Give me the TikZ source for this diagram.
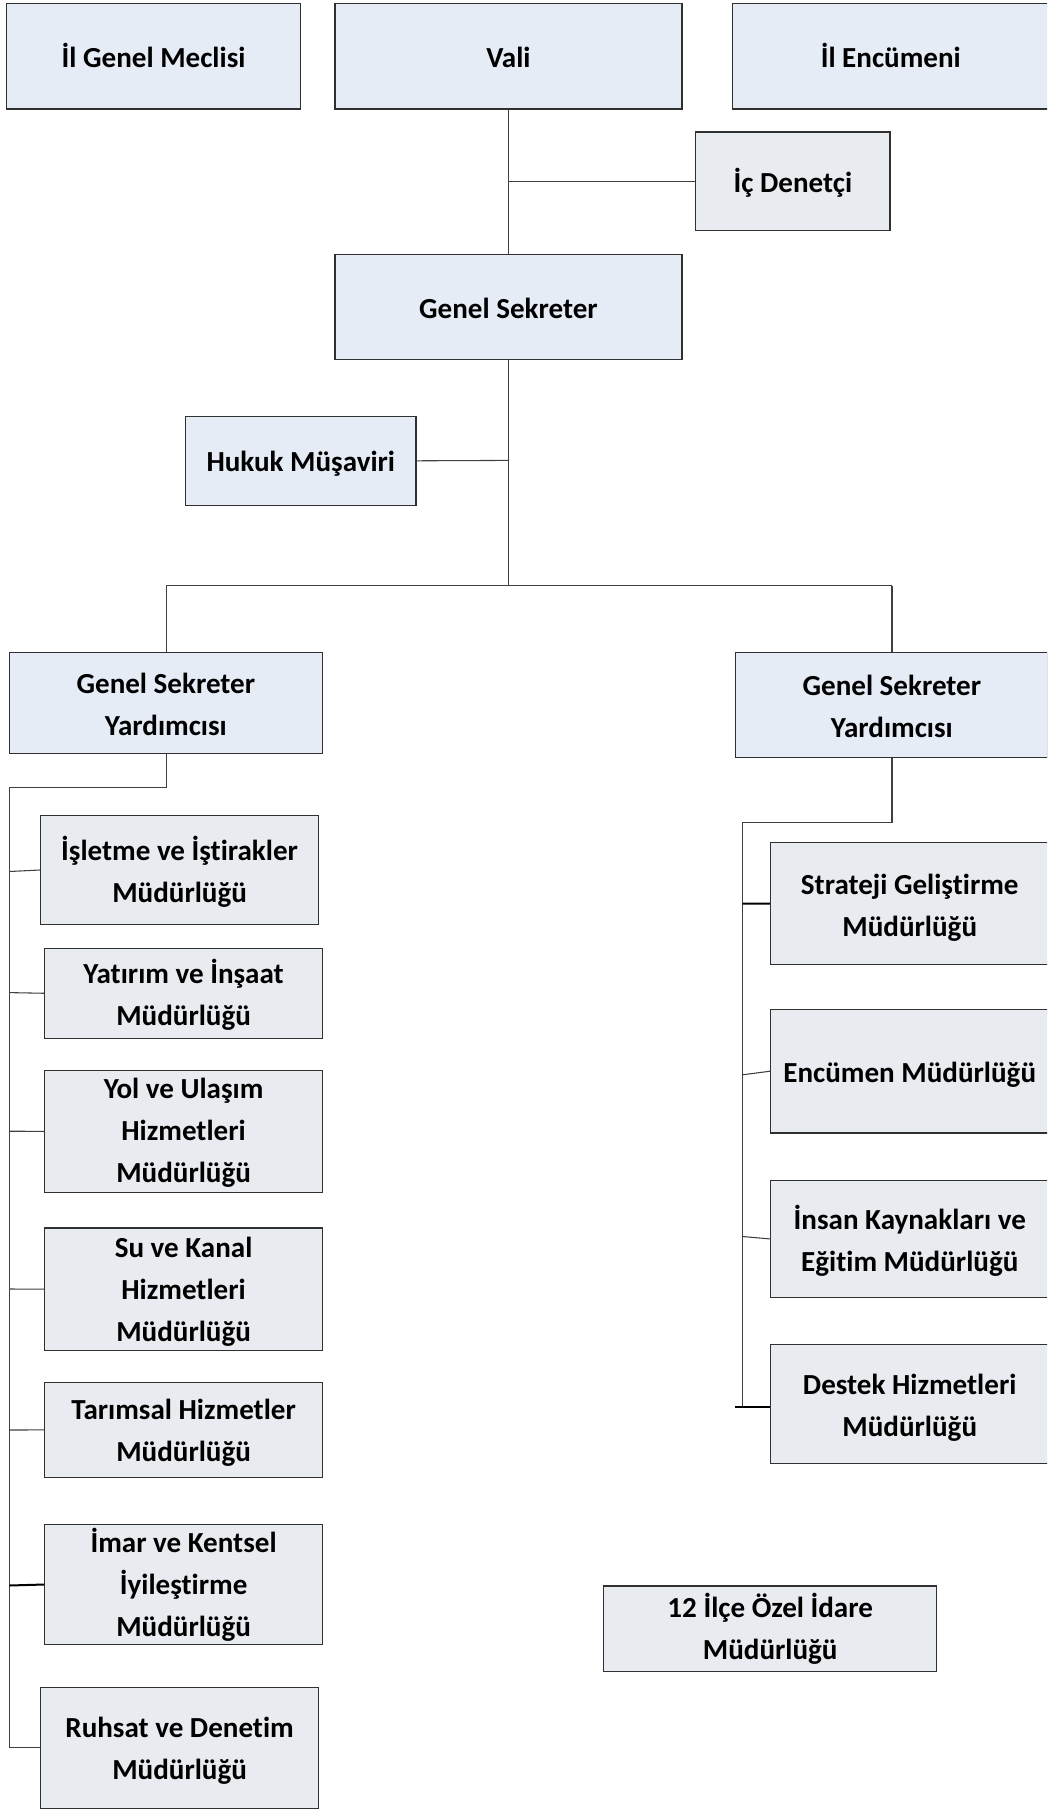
\documentclass[tikz,border=0pt]{standalone}
\usepackage{fontspec}
\setmainfont{Carlito}[Ligatures=NoCommon]
\definecolor{fillA}{HTML}{E6ECF6}
\definecolor{fillB}{HTML}{E8ECF1}
\definecolor{edge}{HTML}{303030}
\definecolor{conn}{HTML}{404040}
\tikzset{
  boxA/.style={draw=edge, line width=1pt, fill=fillA, inner sep=0pt},
  boxB/.style={boxA, fill=fillB},
  txt/.style={inner sep=0pt, align=center,
    font=\fontsize{21.8}{31.5}\selectfont\bfseries,
    execute at begin node={\rule{0pt}{21.5pt}},
    execute at end node={\rule[-5pt]{0pt}{5pt}}},
  link/.style={draw=conn, line width=0.8pt},
  linkT/.style={draw=black, line width=1.5pt},
}
% [#1 text offset down, px] #2 style, #3 name, #4 x1, #5 y1, #6 x2, #7 y2, #8 text
\newcommand\orgbox[8][0]{%
  \node[#2, minimum width={(#6-#4)*0.75pt}, minimum height={(#7-#5)*0.75pt}]
    (#3) at ({(#4+#6)/2},{(#5+#7)/2}) {};
  \node[txt] (#3-t) at ([yshift={-(#1)*0.75pt}]#3.center) {#8};}
\begin{document}
\begin{tikzpicture}[x=0.75pt,y=-0.75pt]
\clip (0,0) rectangle (1047,1810);
\fill[white] (0,0) rectangle (1047,1810);
% top row
\orgbox{boxA}{ilgm}{6.7}{3.8}{300.5}{109}{İl Genel Meclisi}
\orgbox{boxA}{vali}{335}{3.8}{682}{109}{Vali}
\orgbox{boxA}{ilenc}{732.5}{3.8}{1049}{109}{İl Encümeni}
\orgbox{boxB}{icd}{695.8}{132}{890}{230.8}{İç Denetçi}
\orgbox{boxA}{gs}{335}{254.5}{682}{359.7}{Genel Sekreter}
\orgbox{boxA}{hukuk}{185.6}{416.4}{416}{505.2}{Hukuk Müşaviri}
\orgbox[4.5]{boxA}{gsyL}{9.3}{652.4}{322.5}{753.8}{Genel Sekreter\\Yardımcısı}
\orgbox[4.5]{boxA}{gsyR}{735.8}{652.4}{1048}{757.7}{Genel Sekreter\\Yardımcısı}
% left departments
\orgbox[2.3]{boxB}{isl}{40.7}{815.5}{318.5}{924.5}{İşletme ve İştirakler\\Müdürlüğü}
\orgbox[2]{boxB}{yat}{44.7}{948.3}{322.5}{1038.2}{Yatırım ve İnşaat\\Müdürlüğü}
\orgbox[2]{boxB}{yol}{44.7}{1070.3}{322.5}{1192.4}{Yol ve Ulaşım\\Hizmetleri\\Müdürlüğü}
\orgbox[4]{boxB}{su}{44.7}{1228}{322.5}{1350.2}{Su ve Kanal\\Hizmetleri\\Müdürlüğü}
\orgbox[3.5]{boxB}{tar}{44.7}{1382.4}{322.5}{1477.4}{Tarımsal Hizmetler\\Müdürlüğü}
\orgbox[1]{boxB}{imar}{44.7}{1524.8}{322.5}{1644.2}{İmar ve Kentsel\\İyileştirme\\Müdürlüğü}
\orgbox[3]{boxB}{ruh}{40.7}{1687.5}{318.5}{1808.8}{Ruhsat ve Denetim\\Müdürlüğü}
% right departments
\orgbox[5]{boxB}{str}{770.5}{842.6}{1049}{964.7}{Strateji Geliştirme\\Müdürlüğü}
\orgbox{boxB}{enc}{770.5}{1009.5}{1049}{1133}{Encümen Müdürlüğü}
\orgbox[2.3]{boxB}{ik}{770.5}{1180.5}{1049}{1297.3}{İnsan Kaynakları ve\\Eğitim Müdürlüğü}
\orgbox[4.5]{boxB}{des}{770.5}{1344.7}{1049}{1463.4}{Destek Hizmetleri\\Müdürlüğü}
\orgbox[1]{boxB}{ilce}{603.6}{1585.9}{936.8}{1671.5}{12 İlçe Özel İdare\\Müdürlüğü}
% junction coordinates
\coordinate (jIcd) at (508.5,181.4);
\coordinate (jHuk) at (508.5,460.4);
\coordinate (busM) at (508.5,585.5);
\coordinate (busL) at (166.3,585.5);
\coordinate (busR) at (892,585.5);
\coordinate (lA) at (166.3,787.9);
\coordinate (lB) at (9.3,787.9);
\coordinate (lEnd) at (9.3,1747.8);
\coordinate (rA) at (892,822.3);
\coordinate (rB) at (742.5,822.3);
\coordinate (rEnd) at (742.5,1407);
% connectors
\draw[link] (vali.south) -- (gs.north);
\draw[link] (jIcd) -- (icd.west);
\draw[link] (gs.south) -- (busM);
\draw[link] (hukuk.east) -- (jHuk);
\draw[link] (busL) -- (busR);
\draw[link] (busL) -- (busL |- gsyL.north);
\draw[link] (busR) -- (busR |- gsyR.north);
\draw[link] (lA |- gsyL.south) -- (lA) -- (lB) -- (lEnd);
\draw[link] (rA |- gsyR.south) -- (rA) -- (rB) -- (rEnd);
% left branches
\draw[link] (9.3,871.5) -- (isl.west);
\draw[link] (9.3,992.6) -- (yat.west);
\draw[link] (9.3,1131.2) -- (yol.west);
\draw[link] (9.3,1289) -- (su.west);
\draw[link] (9.3,1430) -- (tar.west);
\draw[linkT] (9.3,1585.5) -- (imar.west);
\draw[link] (lEnd) -- (ruh.west |- lEnd);
% right branches
\draw[linkT] (742.5,903.5) -- (str.west);
\draw[link] (742.5,1074.8) -- (enc.west);
\draw[link] (742.5,1236.5) -- (ik.west);
\draw[linkT] (734.5,1407) -- (des.west |- rEnd);
\end{tikzpicture}
\end{document}
